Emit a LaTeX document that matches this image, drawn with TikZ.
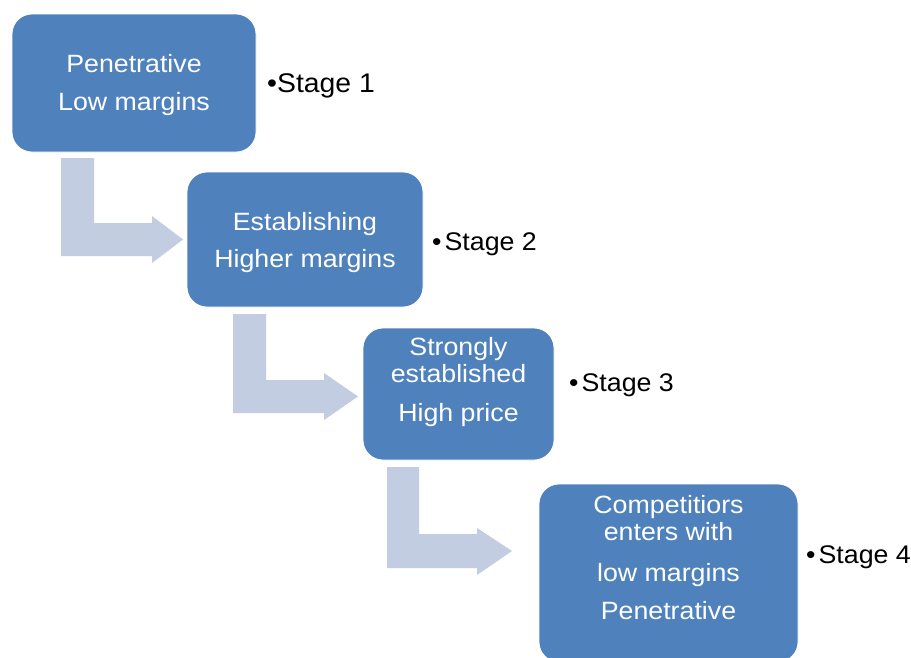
\documentclass[tikz,border=0pt]{standalone}
\usepackage{fontspec}
\setmainfont{Liberation Sans}[FakeStretch=1.07]
\newfontfamily\stagefont{Liberation Sans}[FakeStretch=1.05]
\begin{document}
\begin{tikzpicture}[x=1pt,y=-1pt,
  box/.style={fill=boxblue,draw=white,line width=0.8pt,rounded corners=20pt},
  boxtxt/.style={text=white,anchor=base,inner sep=0pt,font=\fontsize{25}{25}\selectfont},
  stagetxt/.style={text=black,anchor=base west,inner sep=0pt,font=\stagefont\fontsize{25.5}{25}\selectfont},
  bentarrow/.style={fill=arrowgray,draw=none}]
\definecolor{boxblue}{HTML}{4F81BD}
\definecolor{arrowgray}{HTML}{C3CDE2}
\useasboundingbox (0,0) rectangle (911,657);
\clip (0,0) rectangle (911,657);
\fill[white] (0,0) rectangle (911,657);
% bent arrows
\fill[bentarrow] (61,158) -- (94,158) -- (94,223) -- (152,223) -- (152,216) -- (183,239.5) -- (152,263) -- (152,256) -- (61,256) -- cycle;
\fill[bentarrow] (233,314) -- (266,314) -- (266,380) -- (324,380) -- (324,373) -- (358,396.5) -- (324,420) -- (324,413) -- (233,413) -- cycle;
\fill[bentarrow] (387,467) -- (419,467) -- (419,534) -- (477,534) -- (477,528) -- (512,551) -- (477,575) -- (477,568) -- (387,568) -- cycle;
% boxes
\draw[box] (12,14) rectangle (256,152) node[midway,inner sep=0pt] (b1) {};
\draw[box] (187,172) rectangle (423,307) node[midway,inner sep=0pt] (b2) {};
\draw[box] (363,328) rectangle (554,460) node[midway,inner sep=0pt] (b3) {};
\draw[box] (539,484) rectangle (798,662) node[midway,inner sep=0pt] (b4) {};
% box texts
\node[boxtxt] (t11) at (134,72) {Penetrative};
\node[boxtxt] (t12) at (134,110) {Low margins};
\node[boxtxt] (t21) at (305,230) {Establishing};
\node[boxtxt] (t22) at (305,267) {Higher margins};
\node[boxtxt] (t31) at (458.5,355) {Strongly};
\node[boxtxt] (t32) at (458.5,382) {established};
\node[boxtxt] (t33) at (458.5,421) {High price};
\node[boxtxt] (t41) at (668.5,513) {Competitiors};
\node[boxtxt] (t42) at (668.5,540) {enters with};
\node[boxtxt] (t43) at (668.5,581) {low margins};
\node[boxtxt] (t44) at (668.5,619) {Penetrative};
% stage labels
\node[stagetxt,font=\stagefont\fontsize{27}{27}\selectfont] (s1) at (267,92) {•Stage 1};
\node[stagetxt] (s2) at (432,250.5) {•\hspace{3pt}Stage 2};
\node[stagetxt] (s3) at (569,391.5) {•\hspace{3pt}Stage 3};
\node[stagetxt] (s4) at (806,563) {•\hspace{3pt}Stage 4};
\end{tikzpicture}
\end{document}
